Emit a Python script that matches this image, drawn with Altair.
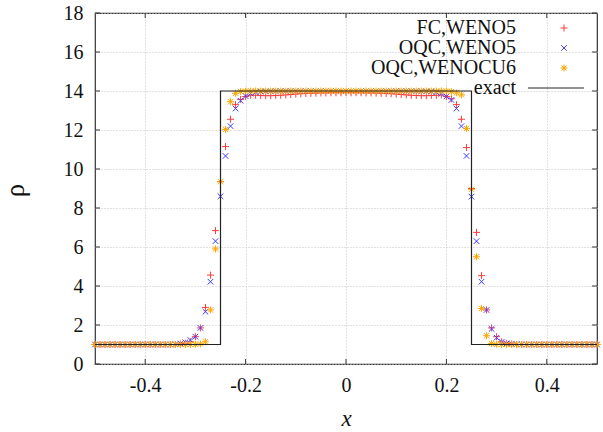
import altair as alt
import pandas as pd

# ---------------- data ----------------
x_vals = [-0.50, -0.49, -0.48, -0.47, -0.46, -0.45, -0.44, -0.43, -0.42, -0.41,
          -0.40, -0.39, -0.38, -0.37, -0.36, -0.35, -0.34, -0.33, -0.32, -0.31,
          -0.30, -0.29, -0.28, -0.27, -0.26, -0.25, -0.24, -0.23, -0.22, -0.21,
          -0.20, -0.19, -0.18, -0.17, -0.16, -0.15, -0.14, -0.13, -0.12, -0.11,
          -0.10, -0.09, -0.08, -0.07, -0.06, -0.05, -0.04, -0.03, -0.02, -0.01,
          0.00, 0.01, 0.02, 0.03, 0.04, 0.05, 0.06, 0.07, 0.08, 0.09,
          0.10, 0.11, 0.12, 0.13, 0.14, 0.15, 0.16, 0.17, 0.18, 0.19,
          0.20, 0.21, 0.22, 0.23, 0.24, 0.25, 0.26, 0.27, 0.28, 0.29,
          0.30, 0.31, 0.32, 0.33, 0.34, 0.35, 0.36, 0.37, 0.38, 0.39,
          0.40, 0.41, 0.42, 0.43, 0.44, 0.45, 0.46, 0.47, 0.48, 0.49, 0.50]

fc_weno5 = [1.0, 1.0, 1.0, 1.0, 1.0, 1.0, 1.0, 1.0, 1.0, 1.0,
            1.0, 1.0, 1.0, 1.0, 1.0, 1.0, 1.0, 1.03, 1.06, 1.14,
            1.40, 1.85, 2.90, 4.56, 6.84, 9.35, 11.15, 12.55, 13.30, 13.57,
            13.72, 13.78, 13.78, 13.77, 13.76, 13.76, 13.77, 13.78, 13.80, 13.82,
            13.84, 13.86, 13.87, 13.88, 13.89, 13.90, 13.90, 13.91, 13.91, 13.91,
            13.91, 13.91, 13.91, 13.91, 13.90, 13.90, 13.89, 13.88, 13.87, 13.86,
            13.84, 13.82, 13.80, 13.78, 13.77, 13.76, 13.76, 13.77, 13.78, 13.80,
            13.72, 13.60, 13.30, 12.55, 11.10, 9.00, 6.75, 4.53, 2.77, 1.85,
            1.40, 1.14, 1.06, 1.03, 1.0, 1.0, 1.0, 1.0, 1.0, 1.0,
            1.0, 1.0, 1.0, 1.0, 1.0, 1.0, 1.0, 1.0, 1.0, 1.0, 1.0]

oqc_weno5 = [1.0, 1.0, 1.0, 1.0, 1.0, 1.0, 1.0, 1.0, 1.0, 1.0,
             1.0, 1.0, 1.0, 1.0, 1.0, 1.0, 1.01, 1.05, 1.11, 1.23,
             1.40, 1.85, 2.68, 4.22, 6.30, 8.60, 10.67, 12.20, 13.10, 13.50,
             13.74, 13.87, 13.94, 13.97, 13.98, 13.99, 14.0, 14.0, 14.0, 14.0,
             14.0, 14.0, 14.0, 14.0, 14.0, 14.0, 14.0, 14.0, 14.0, 14.0,
             14.0, 14.0, 14.0, 14.0, 14.0, 14.0, 14.0, 14.0, 14.0, 14.0,
             14.0, 14.0, 14.0, 14.0, 14.0, 13.99, 13.98, 13.97, 13.94, 13.85,
             13.72, 13.54, 13.10, 12.20, 10.67, 8.58, 6.30, 4.22, 2.77, 1.80,
             1.35, 1.13, 1.06, 1.03, 1.01, 1.0, 1.0, 1.0, 1.0, 1.0,
             1.0, 1.0, 1.0, 1.0, 1.0, 1.0, 1.0, 1.0, 1.0, 1.0, 1.0]

oqc_wenocu6 = [1.0, 1.0, 1.0, 1.0, 1.0, 1.0, 1.0, 1.0, 1.0, 1.0,
               1.0, 1.0, 1.0, 1.0, 1.0, 1.0, 1.0, 1.0, 1.0, 1.0,
               1.01, 1.03, 1.14, 2.77, 5.90, 9.35, 12.03, 13.45, 13.88, 13.97,
               14.0, 14.0, 14.0, 14.0, 14.0, 14.0, 14.0, 14.0, 14.0, 14.0,
               14.0, 14.0, 14.0, 14.0, 14.0, 14.0, 14.0, 14.0, 14.0, 14.0,
               14.0, 14.0, 14.0, 14.0, 14.0, 14.0, 14.0, 14.0, 14.0, 14.0,
               14.0, 14.0, 14.0, 14.0, 14.0, 14.0, 14.0, 14.0, 14.0, 14.0,
               14.0, 13.97, 13.90, 13.80, 12.08, 8.96, 5.50, 2.85, 1.45, 1.05,
               1.01, 1.0, 1.0, 1.0, 1.0, 1.0, 1.0, 1.0, 1.0, 1.0,
               1.0, 1.0, 1.0, 1.0, 1.0, 1.0, 1.0, 1.0, 1.0, 1.0, 1.0]

exact_x = [-0.5, -0.25, -0.25, 0.25, 0.25, 0.5]
exact_rho = [1.0, 1.0, 14.0, 14.0, 1.0, 1.0]

series_names = ["FC,WENO5", "OQC,WENO5", "OQC,WENOCU6", "exact"]
series_colors = ["#ff3b3b", "#3c3cff", "#ffa500", "#222222"]
series_shapes = [
    "M-1,0L1,0M0,-1L0,1",
    "M-0.8,-0.8L0.8,0.8M-0.8,0.8L0.8,-0.8",
    "M-1,0L1,0M0,-1L0,1M-0.75,-0.75L0.75,0.75M-0.75,0.75L0.75,-0.75",
    "M-10.3,0L5.7,0",
]

x_ticks = [-0.4, -0.2, 0.0, 0.2, 0.4]
y_ticks = [0, 2, 4, 6, 8, 10, 12, 14, 16, 18]

# ---------------- tables ----------------
pts = pd.concat([
    pd.DataFrame({"x": x_vals, "rho": fc_weno5, "series": series_names[0]}),
    pd.DataFrame({"x": x_vals, "rho": oqc_weno5, "series": series_names[1]}),
    pd.DataFrame({"x": x_vals, "rho": oqc_wenocu6, "series": series_names[2]}),
], ignore_index=True)
exact_df = pd.DataFrame({"x": exact_x, "rho": exact_rho,
                         "series": series_names[3], "idx": list(range(len(exact_x)))})
xt_df = pd.DataFrame({"x": x_ticks})
yt_df = pd.DataFrame({"rho": y_ticks})

W, H = 502, 351
FONT = "Liberation Serif, Times New Roman, DejaVu Serif, serif"

xs = alt.Scale(domain=[-0.5, 0.5], nice=False, zero=False)
ys = alt.Scale(domain=[0, 18], nice=False, zero=False)
color_scale = alt.Scale(domain=series_names, range=series_colors)
shape_scale = alt.Scale(domain=series_names, range=series_shapes)

legend_spec = alt.Legend(
    title=None, orient="none", legendX=459, legendY=5,
    labelAlign="right", labelOffset={"expr": "-58"}, labelFont=FONT, labelFontSize=20,
    labelColor="#111", symbolSize=49, symbolStrokeWidth=1, rowPadding={"expr": "-2"},
    padding=0, symbolFillColor="transparent",
)

grid_common = dict(grid=True, gridColor="#c4c4c4", gridDash=[1, 2], gridWidth=1,
                   ticks=False, domain=False, labelFont=FONT, labelFontSize=20,
                   labelColor="#111", titleFont=FONT, titleFontWeight="normal",
                   titleColor="#111", labelExpr="'' + datum.value")

x_axis = alt.Axis(values=x_ticks, labelPadding=11, title="x", titleFontSize=23,
                  titleFontStyle="italic", titleX=251, titleY=61,
                  titleBaseline="alphabetic", titleAlign="center", **grid_common)
y_axis = alt.Axis(values=y_ticks, labelPadding=12, title="ρ", titleFontSize=27,
                  titleX=-72, titleY=177, titleAngle=270,
                  titleBaseline="alphabetic", titleAlign="center", **grid_common)

X = alt.X("x:Q", scale=xs, axis=x_axis)
Y = alt.Y("rho:Q", scale=ys, axis=y_axis)

points = alt.Chart(pts).mark_point(filled=False, size=49, strokeWidth=1, opacity=1).encode(
    x=X, y=Y,
    color=alt.Color("series:N", scale=color_scale, legend=legend_spec),
    shape=alt.Shape("series:N", scale=shape_scale, legend=legend_spec),
)

exact_line = alt.Chart(exact_df).mark_line(strokeWidth=1.2).encode(
    x=X, y=Y,
    color=alt.Color("series:N", scale=color_scale, legend=None),
    order=alt.Order("idx:Q"),
)

tick_color = "#333333"
bottom_ticks = alt.Chart(xt_df).mark_rule(color=tick_color, strokeWidth=1).encode(
    x=X, y=alt.value(H), y2=alt.value(H - 5))
top_ticks = alt.Chart(xt_df).mark_rule(color=tick_color, strokeWidth=1).encode(
    x=X, y=alt.value(0), y2=alt.value(5))
left_ticks = alt.Chart(yt_df).mark_rule(color=tick_color, strokeWidth=1).encode(
    y=Y, x=alt.value(0), x2=alt.value(5))
right_ticks = alt.Chart(yt_df).mark_rule(color=tick_color, strokeWidth=1).encode(
    y=Y, x=alt.value(W), x2=alt.value(W - 5))

chart = alt.layer(
    points, exact_line, bottom_ticks, top_ticks, left_ticks, right_ticks
).properties(
    width=W, height=H,
    autosize=alt.AutoSizeParams(type="none"),
    padding={"left": 95, "top": 13, "right": 6, "bottom": 68},
    background="white",
).configure(
    font=FONT
).configure_view(
    stroke="#333333", strokeWidth=1.2
)

chart.save("out.html", embed_options={"renderer": "svg", "actions": False})
